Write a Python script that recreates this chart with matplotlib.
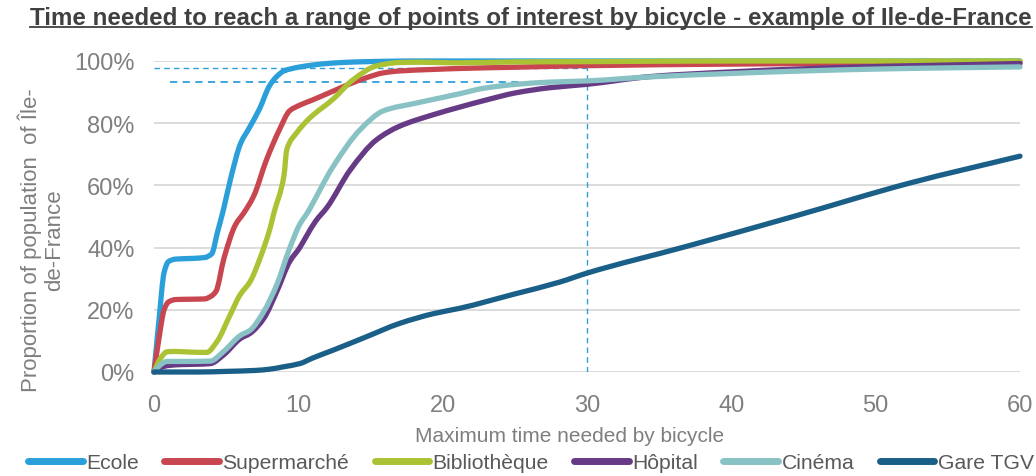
import matplotlib
matplotlib.use("Agg")
import numpy as np
import matplotlib.pyplot as plt
from matplotlib.lines import Line2D
from matplotlib.path import Path
from matplotlib.patches import PathPatch
from matplotlib.ticker import FuncFormatter

plt.rcParams['font.family'] = ['Liberation Sans', 'DejaVu Sans']

title = "Time needed to reach a range of points of interest by bicycle - example of Ile-de-France"
xlabel = "Maximum time needed by bicycle"
ylabel = "Proportion of population  of Île-\nde-France"

ecole_t = [0, 0.35, 0.7, 1.0, 1.5, 2.5, 3.5, 4.0, 4.4, 4.8, 5.3, 6.0, 6.6, 7.3, 8.0, 8.5, 9.0, 9.5, 10, 11, 12, 13, 14, 16, 18, 20, 30, 40, 50, 60]
ecole_p = [0, 17, 32, 35.5, 36.3, 36.5, 36.8, 38, 45, 52, 62, 73.5, 78.5, 84.5, 92, 95, 96.8, 97.5, 98, 98.7, 99.2, 99.5, 99.7, 99.9, 100, 100, 100, 100, 100, 100]

super_t = [0, 0.35, 0.7, 1.0, 1.5, 2.5, 3.5, 4.0, 4.3, 4.85, 5.65, 6.2, 6.9, 7.8, 8.7, 9.4, 10.1, 11, 12.4, 13.5, 14.7, 15.9, 17, 19.4, 21.2, 25, 30, 40, 50, 60]
super_p = [0, 11, 20, 22.5, 23.3, 23.4, 23.5, 24.5, 26, 36.6, 47.4, 51, 56.5, 68.3, 78, 84, 85.8, 87.5, 90.3, 92.5, 94.6, 96.2, 96.8, 97.3, 97.6, 98.0, 98.5, 99.0, 99.3, 99.5]

biblio_t = [0, 0.4, 0.9, 1.5, 2.5, 3.65, 4.35, 5.27, 5.96, 6.65, 7.35, 8.04, 8.3, 9.0, 9.2, 9.9, 10.8, 12.4, 13.8, 15.4, 17.0, 18.5, 21, 25, 30, 40, 50, 60]
biblio_p = [0, 4, 6.5, 6.6, 6.4, 6.3, 9.7, 18.3, 24.8, 29, 36.6, 46.2, 51, 63, 71.5, 77, 81.7, 87.7, 94, 98.4, 99.5, 99.6, 99.4, 99.7, 99.8, 100, 100, 100]

hopital_t = [0, 0.5, 1, 2, 3, 3.9, 4.8, 6.0, 6.65, 7.6, 8.5, 9.4, 10.1, 10.6, 11.2, 12.0, 13.6, 15.4, 17.0, 19.4, 21.2, 22.8, 25.1, 27.4, 30, 34.4, 40, 45, 50, 55, 60]
hopital_p = [0, 1.5, 2.1, 2.4, 2.5, 2.7, 5.4, 10.8, 12.4, 17.2, 25.8, 35.5, 40, 44, 48.5, 53, 65, 74.6, 79, 82.8, 85.2, 87.2, 89.8, 91.4, 92.5, 95, 96.5, 97.5, 98.2, 98.7, 99.2]

cinema_t = [0, 0.5, 0.9, 2, 3.9, 4.8, 6.0, 6.65, 7.6, 8.5, 9.4, 10.1, 10.6, 12.4, 14.3, 15.9, 18.2, 19.4, 21.2, 22.8, 25.1, 27.4, 30, 34.4, 40, 45, 50, 55, 60]
cinema_p = [0, 2.5, 3.4, 3.4, 3.5, 6.5, 11.8, 13.4, 19.4, 28, 39.8, 47.5, 51, 66, 78, 84, 86.5, 87.7, 89.5, 91.2, 92.5, 93.2, 93.6, 94.9, 96, 96.8, 97.4, 97.8, 98.1]

tgv_t = [0, 3, 5, 7, 8, 9, 10.1, 11, 12.4, 14.7, 17, 19.4, 21.2, 25, 28.1, 30, 36.9, 44.3, 52.4, 60]
tgv_p = [0, 0, 0.2, 0.5, 0.9, 1.7, 2.7, 4.5, 7, 11.3, 15.6, 18.8, 20.5, 25.1, 28.9, 31.8, 40.4, 50, 60.8, 69.4]

series = [
    ("Ecole", ecole_t, ecole_p, "#2A9FDA"),
    ("Supermarché", super_t, super_p, "#C8464F"),
    ("Bibliothèque", biblio_t, biblio_p, "#ABC235"),
    ("Hôpital", hopital_t, hopital_p, "#673A85"),
    ("Cinéma", cinema_t, cinema_p, "#88C2C4"),
    ("Gare TGV", tgv_t, tgv_p, "#1A5F88"),
]

# reference guide lines (minutes, share)
guide_x = 30
guide_y_high = 97.6
guide_y_low = 93.3
guide_low_start = 1.1

xticks = [0, 10, 20, 30, 40, 50, 60]
yticks = [0, 20, 40, 60, 80, 100]


def smooth_path(t, p):
    """Smoothed line (like a spreadsheet 'smoothed line') drawn as cubic Bezier
    segments passing through the given points, with monotone tangents."""
    x = np.asarray(t, float)
    y = np.asarray(p, float)
    h = np.diff(x)
    d = np.diff(y) / h
    n = len(x)
    m = np.zeros(n)
    m[0], m[-1] = d[0], d[-1]
    for k in range(1, n - 1):
        if d[k - 1] * d[k] <= 0:
            m[k] = 0.0
        else:
            w1 = 2 * h[k] + h[k - 1]
            w2 = h[k] + 2 * h[k - 1]
            m[k] = (w1 + w2) / (w1 / d[k - 1] + w2 / d[k])
    verts = [(x[0], y[0])]
    codes = [Path.MOVETO]
    for k in range(n - 1):
        verts += [(x[k] + h[k] / 3, y[k] + m[k] * h[k] / 3),
                  (x[k + 1] - h[k] / 3, y[k + 1] - m[k + 1] * h[k] / 3),
                  (x[k + 1], y[k + 1])]
        codes += [Path.CURVE4] * 3
    return Path(verts, codes)


fig = plt.figure(figsize=(10.36, 4.77), dpi=100)
ax = fig.add_axes([154/1036, 1-373/477, (1020-154)/1036, (373-62)/477])

for y in yticks:
    ax.axhline(y, color="#D9D9D9", lw=1.3, zorder=0)

dash_c = "#2E9FDB"
ax.plot([guide_x, guide_x], [0, guide_y_high], color=dash_c, lw=1.0, ls=(0, (4, 3)), zorder=1)
ax.plot([0, guide_x], [guide_y_high, guide_y_high], color=dash_c, lw=1.0, ls=(0, (4, 3)), zorder=1)
ax.plot([guide_low_start, guide_x], [guide_y_low, guide_y_low], color=dash_c, lw=1.3, ls=(0, (4, 3)), zorder=1)

handles = []
for i, (name, t, p, c) in enumerate(series):
    patch = PathPatch(smooth_path(t, p), facecolor='none', edgecolor=c, lw=3.8,
                      capstyle='round', joinstyle='round', clip_on=False, zorder=2 + i)
    ax.add_patch(patch)
    handles.append(Line2D([], [], color=c, lw=5, solid_capstyle='round', label=name))

ax.set_xlim(0, 60)
ax.set_ylim(0, 100)
ax.set_xticks(xticks)
ax.set_yticks(yticks)
ax.yaxis.set_major_formatter(FuncFormatter(lambda v, _: f"{v:.0f}%"))
for s in ax.spines.values():
    s.set_visible(False)
ax.tick_params(axis='both', length=0, labelsize=17, labelcolor="#7F7F7F")
ax.tick_params(axis='y', pad=14)
ax.tick_params(axis='x', pad=16)
ax.set_xlabel(xlabel, fontsize=15, color="#7F7F7F")
ax.xaxis.set_label_coords((570 - 154) / 866, (373 - 437) / 311)
ax.xaxis.label.set_va('center')

fig.text(41/1036, 1-240/477, ylabel, rotation=90, ha='center', va='center',
         fontsize=16, color="#7F7F7F", multialignment='center', linespacing=1.15)

t = fig.text(30/1036, 1-18/477, title, ha='left', va='center', fontsize=17.4,
             fontweight='bold', color="#404040")

leg = fig.legend(handles=handles, loc='center', bbox_to_anchor=(531/1036, 1-464/477), ncol=6,
                 frameon=False, fontsize=15.2, handlelength=2.6, handletextpad=0.15,
                 columnspacing=1.2, borderaxespad=0, borderpad=0)
for txt in leg.get_texts():
    txt.set_color("#595959")

fig.canvas.draw()
bb = t.get_window_extent().transformed(fig.transFigure.inverted())
fig.add_artist(Line2D([bb.x0, bb.x1], [bb.y0 + 0.004, bb.y0 + 0.004],
                      transform=fig.transFigure, color="#404040", lw=1.3))

fig.savefig("out.png", dpi=100)
